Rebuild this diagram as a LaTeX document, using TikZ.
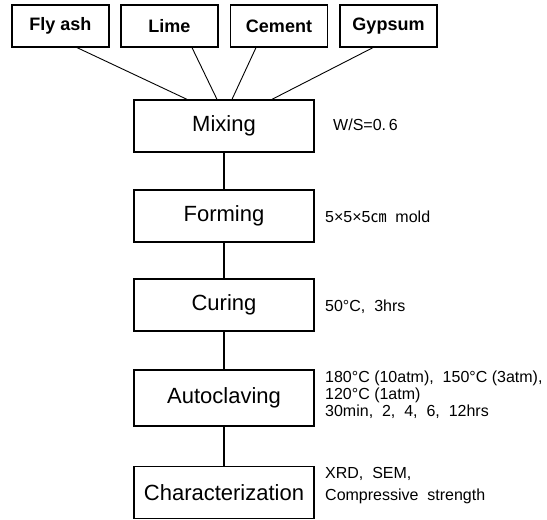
\documentclass[tikz,border=0pt]{standalone}
\usepackage{fontspec}
\setmainfont{Liberation Sans}
\newfontfamily\cjkfont{Noto Sans CJK KR}
\begin{document}
\begin{tikzpicture}[
        x=1pt, y=-1pt,
        input/.style={
            rectangle, draw=black, line width=1.2pt,
            minimum width=97pt, minimum height=42pt,
            inner sep=0pt, font=\fontsize{18}{20}\selectfont\bfseries
        },
        stage/.style={
            rectangle, draw=black, line width=1.3pt,
            minimum width=180pt, minimum height=52pt,
            inner sep=0pt, font=\fontsize{22}{26}\selectfont
        },
        note/.style={
            anchor=west, align=left, inner sep=0pt,
            font=\fontsize{16}{17}\selectfont
        },
        link/.style={line width=0.9pt},
        flow/.style={line width=1.4pt}
    ]
    \useasboundingbox (0,0) rectangle (547,520);

    % Raw materials on top
    \node[input] (fly)    at (60.5, 26)  {Fly ash};
    \node[input] (lime)   at (169.5, 26) {Lime};
    \node[input] (cement) at (279, 26)   {Cement};
    \node[input] (gyp)    at (388.5, 26) {Gypsum};

    % Process stages
    \node[stage] (mix)   at (224, 126)   {Mixing};
    \node[stage] (form)  at (224, 216)   {Forming};
    \node[stage] (cure)  at (224, 305)   {Curing};
    \node[stage, minimum height=56pt] (auto) at (224, 398) {Autoclaving};
    \node[stage] (char)  at (224, 492.5) {Characterization};

    % Materials into mixing
    \draw[link] ([xshift=16.5pt]fly.south)    -- ([xshift=-37pt]mix.north);
    \draw[link] ([xshift=22.5pt]lime.south)   -- ([xshift=-7pt]mix.north);
    \draw[link] ([xshift=-23pt]cement.south)  -- ([xshift=8pt]mix.north);
    \draw[link] ([xshift=-15.5pt]gyp.south)   -- ([xshift=48pt]mix.north);

    % Stage to stage
    \draw[flow] (mix.south)  -- (form.north);
    \draw[flow] (form.south) -- (cure.north);
    \draw[flow] (cure.south) -- (auto.north);
    \draw[flow] (auto.south) -- (char.north);

    % Conditions on the right
    \node[note] (mixnote)  at (333, 125) {W/S=0.\,6};
    \node[note] (formnote) at (325, 217) {5×5×5{\cjkfont ㎝}\ \ mold};
    \node[note] (curenote) at (325, 307) {50\textdegree C,\ \ 3hrs};
    \node[note] (autonote) at (325, 395)
        {180\textdegree C (10atm),\ \ 150\textdegree C (3atm),\\
         120\textdegree C (1atm)\\
         30min,\ \ 2,\ \ 4,\ \ 6,\ \ 12hrs};
    \node[note, font=\fontsize{16}{22}\selectfont] (charnote) at (325, 486)
        {XRD,\ \ SEM,\\Compressive\ \ strength};

\end{tikzpicture}
\end{document}
